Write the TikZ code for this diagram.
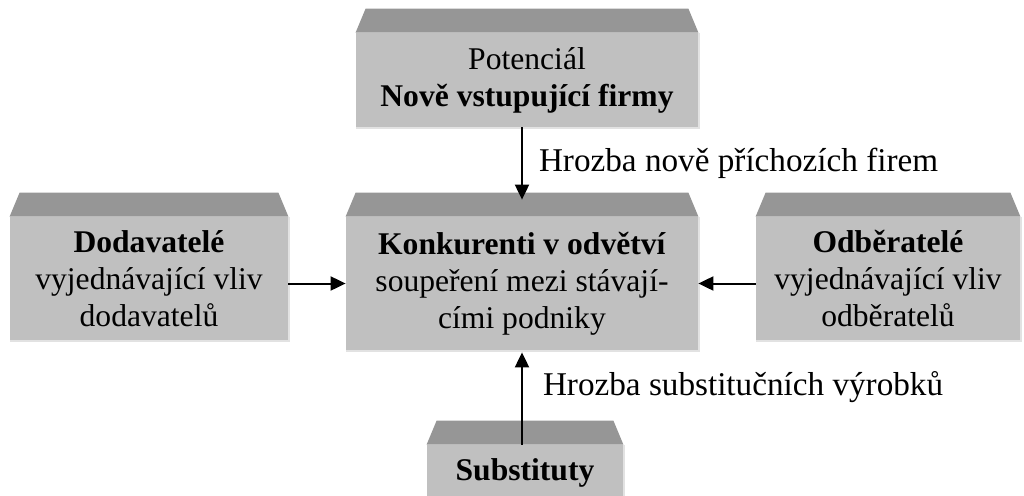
\documentclass[tikz,border=0pt]{standalone}
\usepackage{fontspec}
\setmainfont{Liberation Serif}
\usetikzlibrary{arrows.meta}
\definecolor{facegray}{RGB}{192,192,192}
\definecolor{topgray}{RGB}{150,150,150}
\definecolor{edgegray}{RGB}{226,226,226}
\tikzset{
  force/.style={fill=facegray,inner sep=0pt,align=center,
    font=\fontsize{15.8}{18.5}\selectfont},
  threat/.style={-{Triangle[length=7.5pt,width=7pt]},line width=1pt},
  threatlabel/.style={font=\fontsize{16.6}{19}\selectfont,inner sep=0pt}
}
% top face and light edge of a bevelled box
\newcommand{\bevel}[1]{%
  \fill[topgray] (#1.north west) -- ++(10,24) -- ([xshift=-5pt,yshift=12pt]#1.north east) -- (#1.north east) -- cycle;
  \draw[edgegray,line width=1pt] ([xshift=0.5pt]#1.north east) -- ([xshift=0.5pt,yshift=-0.5pt]#1.south east) -- ([yshift=-0.5pt]#1.south west);
}
\begin{document}
\begin{tikzpicture}[x=0.5pt,y=0.5pt]
    \useasboundingbox (0,0) rectangle (1024,495);
    \clip (0,0) rectangle (1024,495);
    % the five forces
    \node[force,minimum width=171pt,minimum height=47pt] (entrants) at (527,415) {Potenciál\\\textbf{Nově vstupující firmy}};
    \node[force,minimum width=176pt,minimum height=66.5pt] (rivals) at (522,211.5) {\textbf{Konkurenti v odvětví}\\soupeření mezi stávají-\\cími podniky};
    \node[force,minimum width=139pt,minimum height=61.5pt] (suppliers) at (149,216.5) {\textbf{Dodavatelé}\\vyjednávající vliv\\dodavatelů};
    \node[force,minimum width=132pt,minimum height=61.5pt] (buyers) at (888,216.5) {\textbf{Odběratelé}\\vyjednávající vliv\\odběratelů};
    \node[force,minimum width=98pt,minimum height=28pt] (substitutes) at (525,22) {\textbf{Substituty}};
    \bevel{entrants}
    \bevel{rivals}
    \bevel{suppliers}
    \bevel{buyers}
    \bevel{substitutes}
    % threats
    \draw[threat] (entrants.south -| rivals.north) -- ([yshift=8.5pt]rivals.north)
        node[threatlabel,midway,right=8pt] {Hrozba nově příchozích firem};
    \draw[threat] (substitutes.north -| rivals.south) -- ([yshift=-1pt]rivals.south)
        node[threatlabel,pos=0.62,right=10pt] {Hrozba substitučních výrobků};
    \draw[threat] (suppliers.east |- rivals.west) -- (rivals.west);
    \draw[threat] (buyers.west |- rivals.east) -- (rivals.east);
\end{tikzpicture}
\end{document}
